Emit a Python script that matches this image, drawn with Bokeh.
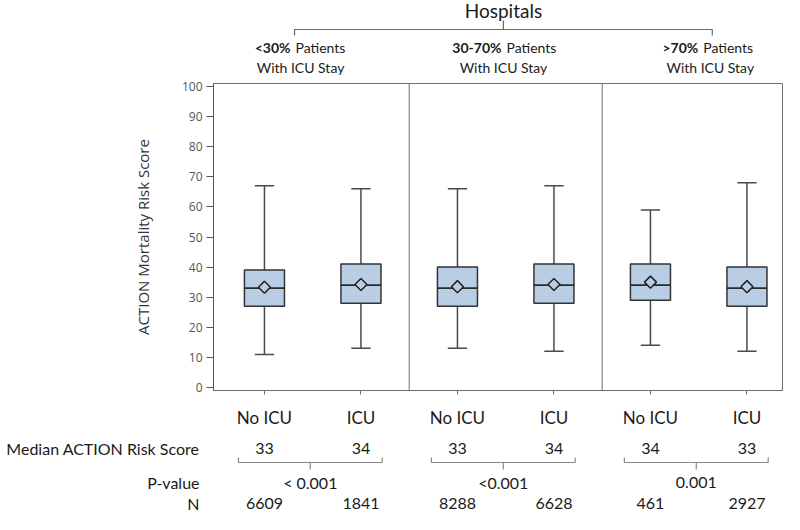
import numpy as np
from bokeh.plotting import figure
from bokeh.layouts import column
from bokeh.models import Range1d, FixedTicker, Span, ColumnDataSource
from bokeh.core.properties import value
from bokeh.embed import file_html
from bokeh.resources import INLINE

# ---------------- data ----------------
groups = ["<30%", "30-70%", ">70%"]
group_rest = "Patients"
group_line2 = "With ICU Stay"
conditions = ["No ICU", "ICU"]
whisker_low = [11, 13, 13, 12, 14, 12]
q1 = [27, 28, 27, 28, 29, 27]
median = [33, 34, 33, 34, 34, 33]
q3 = [39, 41, 40, 41, 41, 40]
whisker_high = [67, 66, 66, 67, 59, 68]
mean = [33.3, 34.2, 33.5, 34.2, 35.0, 33.5]
n_patients = [6609, 1841, 8288, 6628, 461, 2927]
p_values = ["< 0.001", "<0.001", "0.001"]
row_labels = ["Median ACTION Risk Score", "P-value", "N"]
y_ticks = list(range(0, 101, 10))

# ---------------- layout constants ----------------
W = 784
LEFT, RIGHT = 213, 2
FRAME_W = W - LEFT - RIGHT
PPU = 96.5
X0 = -0.028
X1 = X0 + FRAME_W / PPU
H_HEAD, H_MAIN, H_TAB = 78, 352, 84
TOP_MAIN, BOT_MAIN = 5, 39
Y0, Y1 = -1, 101
BOX_W, CAP_W = 0.415, 0.2

FONT = value("Lato")
BOX_FILL = "#B9CDE5"
FRAME_COL = "#6e6e6e"
TXT = "#1a1a1a"

nc = len(conditions)
x_pos = [g * nc + c + 0.5 for g in range(len(groups)) for c in range(nc)]
x_labels = [conditions[c] for g in range(len(groups)) for c in range(nc)]

# ---------------- main box plot ----------------
x_range = Range1d(X0, X1)
p = figure(width=W, height=H_MAIN, x_range=x_range, y_range=Range1d(Y0, Y1),
           output_backend="svg", toolbar_location=None,
           min_border_left=LEFT, min_border_right=RIGHT,
           min_border_top=TOP_MAIN, min_border_bottom=BOT_MAIN)
p.grid.visible = False
p.outline_line_color = FRAME_COL
p.outline_line_width = 1

src = ColumnDataSource(dict(
    x=x_pos, lo=whisker_low, q1=q1, med=median, q3=q3, hi=whisker_high, mean=mean,
    cl=[x - CAP_W / 2 for x in x_pos], cr=[x + CAP_W / 2 for x in x_pos],
    bl=[x - BOX_W / 2 for x in x_pos], br=[x + BOX_W / 2 for x in x_pos],
))
wk = dict(source=src, line_color="#4a4a4a", line_width=1.5)
p.segment(x0="x", y0="q3", x1="x", y1="hi", **wk)
p.segment(x0="x", y0="lo", x1="x", y1="q1", **wk)
p.segment(x0="cl", y0="hi", x1="cr", y1="hi", **wk)
p.segment(x0="cl", y0="lo", x1="cr", y1="lo", **wk)
p.vbar(x="x", width=BOX_W, bottom="q1", top="q3", source=src,
       fill_color=BOX_FILL, line_color="#333333", line_width=1.5)
p.segment(x0="bl", y0="med", x1="br", y1="med", source=src,
          line_color="#2a2a2a", line_width=1.8)
p.scatter(x="x", y="mean", source=src, marker="square", angle=np.pi / 4, size=8.5,
          fill_color=BOX_FILL, line_color="#222222", line_width=1.5)

for g in range(1, len(groups)):
    p.add_layout(Span(location=g * nc, dimension="height",
                      line_color=FRAME_COL, line_width=1))

p.yaxis.ticker = FixedTicker(ticks=y_ticks)
p.yaxis.axis_label = "ACTION Mortality Risk Score"
p.yaxis.axis_label_text_font = "Open Sans"
p.yaxis.axis_label_text_font_size = "15px"
p.yaxis.axis_label_text_font_style = "normal"
p.yaxis.axis_label_text_color = "#333333"
p.yaxis.axis_label_standoff = 26
p.yaxis.major_label_text_font = "Open Sans"
p.yaxis.major_label_text_font_size = "12px"
p.yaxis.major_label_text_color = "#555555"
p.yaxis.major_tick_out = 7
p.yaxis.major_tick_in = 0
p.yaxis.minor_tick_line_color = None
p.yaxis.major_tick_line_color = "#555555"
p.yaxis.axis_line_color = "#555555"
p.yaxis.major_label_standoff = 4

p.xaxis.ticker = FixedTicker(ticks=x_pos)
p.xaxis.major_label_overrides = {x: l for x, l in zip(x_pos, x_labels)}
p.xaxis.major_label_text_font = "Lato"
p.xaxis.major_label_text_font_size = "17px"
p.xaxis.major_label_text_color = TXT
p.xaxis.major_tick_out = 4
p.xaxis.major_tick_in = 0
p.xaxis.major_tick_line_color = FRAME_COL
p.xaxis.minor_tick_line_color = None
p.xaxis.axis_line_color = FRAME_COL
p.xaxis.major_label_standoff = 12

# ---------------- header ----------------
h = figure(width=W, height=H_HEAD, x_range=x_range, y_range=Range1d(H_HEAD, 0),
           x_axis_type=None, y_axis_type=None, output_backend="svg",
           toolbar_location=None, min_border_left=LEFT, min_border_right=RIGHT,
           min_border_top=0, min_border_bottom=0, outline_line_color=None)
h.grid.visible = False
HEAD_X = [0.874, 2.977, 5.12]
BOLD_SHIFT = [-10, -2, -12]
hx_l, hx_r = HEAD_X[0] - 6 / PPU, HEAD_X[-1] + 2 / PPU
hx_m = (hx_l + hx_r) / 2
h.multi_line(xs=[[hx_l, hx_l, hx_r, hx_r], [hx_m, hx_m]],
             ys=[[35, 29, 29, 35], [29, 20]], line_color="#6a6a6a", line_width=1.2)
h.text(x=[hx_m], y=[10], text=["Hospitals"], text_font=FONT, text_font_size="19px",
       text_align="center", text_baseline="middle", text_color=TXT)
hsrc = ColumnDataSource(dict(x=HEAD_X, bold=groups, rest=[group_rest] * len(groups),
                             l2=[group_line2] * len(groups),
                             xo_b=BOLD_SHIFT, xo_r=[s + 5 for s in BOLD_SHIFT]))
h.text(x="x", y=47, text="bold", x_offset="xo_b", source=hsrc, text_font=FONT,
       text_font_size="14px", text_font_style="bold", text_align="right",
       text_baseline="middle", text_color=TXT)
h.text(x="x", y=47, text="rest", x_offset="xo_r", source=hsrc, text_font=FONT,
       text_font_size="14px", text_align="left", text_baseline="middle",
       text_color=TXT)
h.text(x="x", y=67, text="l2", source=hsrc, text_font=FONT, text_font_size="14px",
       text_align="center", text_baseline="middle", text_color=TXT)

# ---------------- table below ----------------
t = figure(width=W, height=H_TAB, x_range=x_range,
           y_range=Range1d(H_TAB, 0), x_axis_type=None,
           output_backend="svg", toolbar_location=None,
           min_border_left=LEFT, min_border_right=RIGHT,
           min_border_top=0, min_border_bottom=0, outline_line_color=None)
t.grid.visible = False
ROW_MED, ROW_P, ROW_N = 18, 52, 73
rows = [ROW_MED, ROW_P, ROW_N]
t.yaxis.ticker = FixedTicker(ticks=rows)
t.yaxis.major_label_overrides = {r: l for r, l in zip(rows, row_labels)}
t.yaxis.major_label_text_font = "Lato"
t.yaxis.major_label_text_font_size = "16px"
t.yaxis.major_label_text_color = TXT
t.yaxis.major_label_standoff = 14
t.yaxis.major_tick_out = 0
t.yaxis.major_tick_in = 0
t.yaxis.axis_line_color = None
t.yaxis.major_tick_line_color = None
t.yaxis.minor_tick_line_color = None

tsrc = ColumnDataSource(dict(x=x_pos, med=[str(m) for m in median],
                             n=[str(v) for v in n_patients]))
TS = "16px"
t.text(x="x", y=ROW_MED, text="med", source=tsrc, text_font=FONT, text_font_size=TS,
       text_align="center", text_baseline="middle", text_color=TXT)
t.text(x="x", y=ROW_N, text="n", source=tsrc, text_font=FONT, text_font_size=TS,
       text_align="center", text_baseline="middle", text_color=TXT)
bxs, bys, mids = [], [], []
for g in range(len(groups)):
    xl = x_pos[g * nc] - 0.27
    xr = x_pos[g * nc + nc - 1] + 0.22
    xm = (xl + xr) / 2
    mids.append(xm)
    bxs += [[xl, xl, xr, xr], [xm, xm]]
    bys += [[27, 32, 32, 27], [32, 39]]
t.multi_line(xs=bxs, ys=bys, line_color="#8a8a8a", line_width=1.2)
t.text(x=mids, y=[ROW_P] * len(mids), text=p_values, text_font=FONT,
       text_font_size=TS, text_align="center", text_baseline="middle",
       text_color=TXT)

layout = column(h, p, t, spacing=0)
open("out.html", "w").write(file_html(layout, INLINE))
